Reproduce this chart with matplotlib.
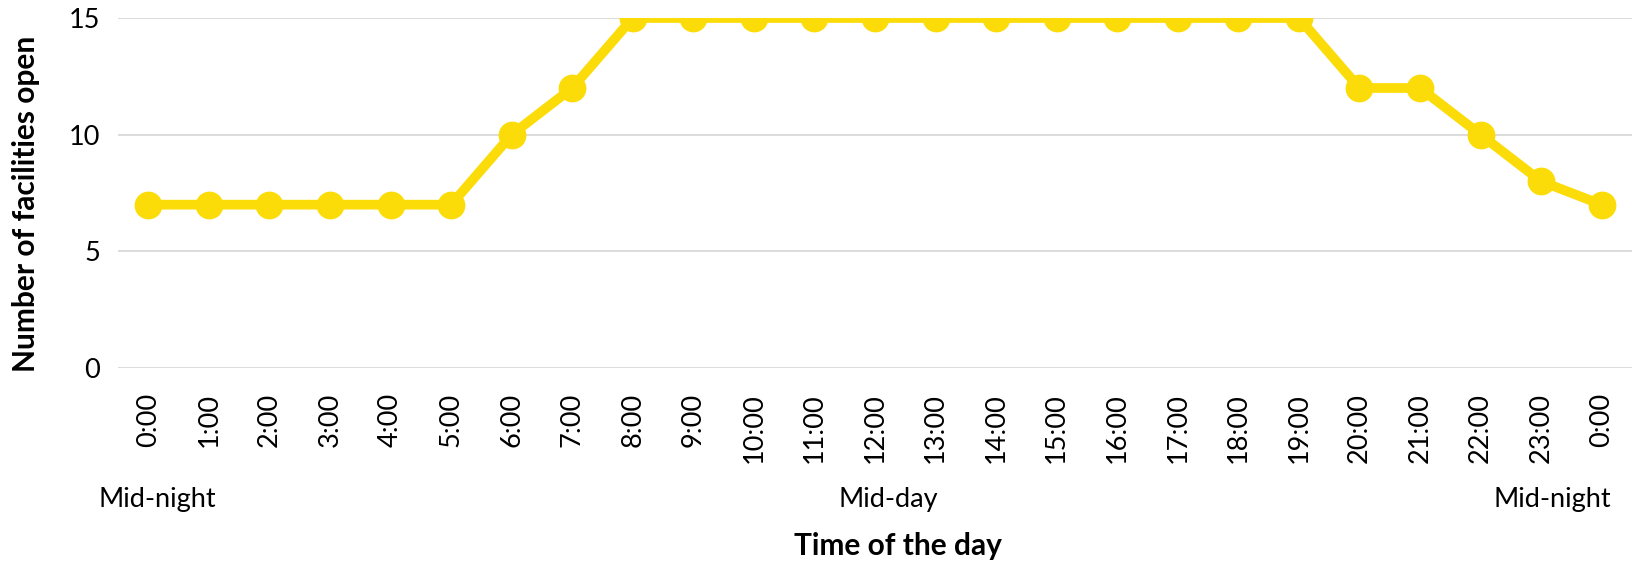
import numpy as np
import matplotlib
matplotlib.use('Agg')
import matplotlib.pyplot as plt

plt.rcParams['font.family'] = ['Lato', 'DejaVu Sans']

hours = ['0:00', '1:00', '2:00', '3:00', '4:00', '5:00', '6:00', '7:00', '8:00',
         '9:00', '10:00', '11:00', '12:00', '13:00', '14:00', '15:00', '16:00',
         '17:00', '18:00', '19:00', '20:00', '21:00', '22:00', '23:00', '0:00']
facilities_open = [7, 7, 7, 7, 7, 7, 10, 12, 15, 15, 15, 15, 15, 15, 15, 15, 15,
                   15, 15, 15, 12, 12, 10, 8, 7]
y_ticks = [0, 5, 10, 15]

W, H = 1638, 563
fs = 19.5
fs_bold = 21.5
fig = plt.figure(figsize=(W / 100, H / 100), dpi=100)
ax = fig.add_axes([118 / W, 1 - 368 / H, (1632 - 118) / W, (368 - 18) / H])

x = np.arange(len(hours))
ax.plot(x, facilities_open, color='#FCDC08', lw=7, marker='o', ms=19,
        solid_joinstyle='miter', zorder=3)

ax.set_xlim(-0.5, len(hours) - 0.5)
ax.set_ylim(0, 15)
ax.set_yticks(y_ticks)
ax.set_xticks(x)
ax.set_xticklabels(hours, rotation=90, va='top', ha='center')
ax.tick_params(axis='both', length=0, labelsize=fs)
ax.tick_params(axis='x', pad=18)
ax.tick_params(axis='y', pad=13)
ax.yaxis.grid(True, color='#D9D9D9', lw=1.3)
ax.set_axisbelow(True)
for s in ax.spines.values():
    s.set_visible(False)
ax.patch.set_visible(False)

ax.set_ylabel('Number of facilities open', fontsize=fs_bold, fontweight='bold')
ax.yaxis.set_label_coords(40 / W, 1 - 204 / H, transform=fig.transFigure)

fig.text(157 / W, 1 - 499 / H, 'Mid-night', ha='center', va='center', fontsize=fs)
fig.text(888 / W, 1 - 499 / H, 'Mid-day', ha='center', va='center', fontsize=fs)
fig.text(1552 / W, 1 - 499 / H, 'Mid-night', ha='center', va='center', fontsize=fs)
fig.text(898 / W, 1 - 546 / H, 'Time of the day', ha='center', va='center',
         fontsize=fs_bold, fontweight='bold')

fig.savefig('out.png', dpi=100)
